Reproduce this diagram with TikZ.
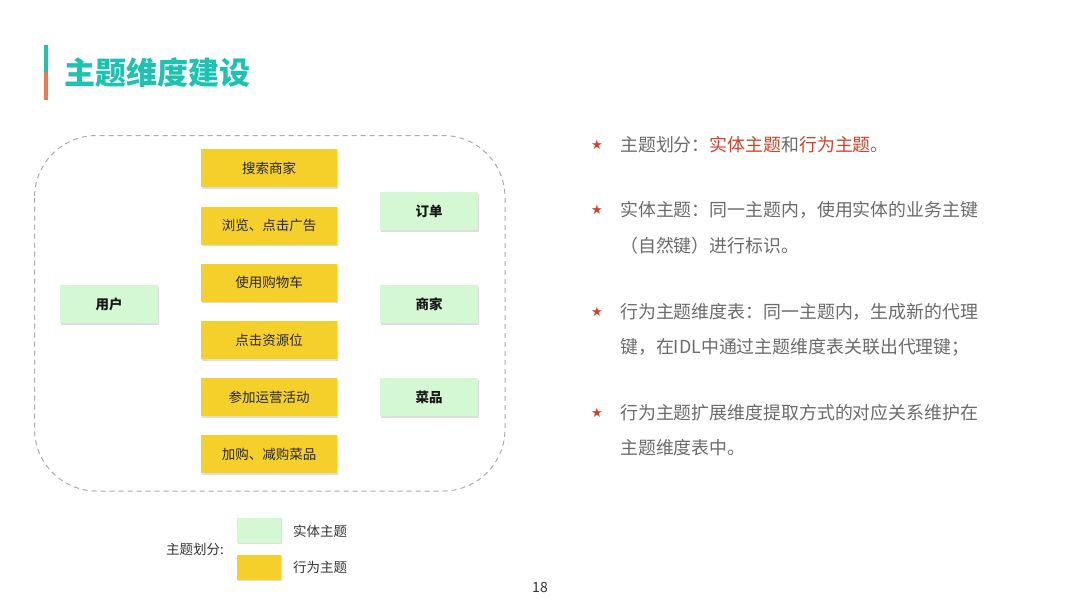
\documentclass[tikz,border=0pt]{standalone}
\usepackage{fontspec}
\setmainfont{Noto Sans CJK SC}
\newfontfamily\cjk{Noto Sans CJK SC}
\newfontfamily\symf{DejaVu Sans}
\usetikzlibrary{shadows}
\definecolor{teal1}{HTML}{1BC3B1}
\definecolor{orange1}{HTML}{F2764A}
\definecolor{ybox}{HTML}{F5D02B}
\definecolor{gbox}{HTML}{D3F8D3}
\definecolor{txtgray}{HTML}{6B6B6B}
\definecolor{redtxt}{HTML}{D63F2A}
\definecolor{dashgray}{HTML}{ABABAB}
\tikzset{
  ystyle/.style={fill=ybox, minimum width=136pt, minimum height=38pt, inner sep=0pt,
    drop shadow={shadow xshift=0.8pt, shadow yshift=-1.5pt, fill=black!22, opacity=0.6},
    font=\cjk\fontsize{13.5}{15}\selectfont, text=black!85},
  gstyle/.style={fill=gbox, minimum width=98pt, minimum height=38pt, inner sep=0pt,
    drop shadow={shadow xshift=0.8pt, shadow yshift=-1.5pt, fill=black!22, opacity=0.6},
    font=\cjk\bfseries\fontsize{13.5}{15}\selectfont, text=black!90},
  bodytxt/.style={anchor=west, inner sep=0pt, text=txtgray, font=\cjk\fontsize{17.9}{20}\selectfont},
  staricon/.style={inner sep=0pt, text=redtxt, font=\symf\fontsize{13}{14}\selectfont},
  legtxt/.style={anchor=west, inner sep=0pt, text=black!80, font=\cjk\fontsize{13.5}{15}\selectfont},
  legbox/.style={minimum width=44pt, minimum height=25pt, inner sep=0pt,
    drop shadow={shadow xshift=0.6pt, shadow yshift=-1.2pt, fill=black!22, opacity=0.6}}
}
\begin{document}
\begin{tikzpicture}[x=1pt,y=-1pt]
\useasboundingbox[fill=white] (0,0) rectangle (1080,608);
% accent bar
\fill[teal1] (44,45) rectangle (47.5,72);
\fill[orange1] (44,72) rectangle (47.5,100);
\node[anchor=west, inner sep=0pt, text=teal1, font=\cjk\bfseries\fontsize{31}{35}\selectfont] (title) at (64,73) {主题维度建设};
% dashed container
\draw[dashgray, line width=1pt, dash pattern=on 5pt off 4pt, rounded corners=62pt] (34.5,135.5) rectangle (505,491);
% yellow boxes
\node[ystyle] (y1) at (269,168) {搜索商家};
\node[ystyle] (y2) at (269,225.5) {浏览、点击广告};
\node[ystyle] (y3) at (269,282.7) {使用购物车};
\node[ystyle] (y4) at (269,340) {点击资源位};
\node[ystyle] (y5) at (269,397) {参加运营活动};
\node[ystyle] (y6) at (269,454.3) {加购、减购菜品};
% green boxes
\node[gstyle] (user) at (109,304) {用户};
\node[gstyle] (order) at (429,211) {订单};
\node[gstyle] (shop) at (429,304) {商家};
\node[gstyle] (dish) at (429,397) {菜品};
% right text
\node[staricon] (s1) at (597,145) {★};
\node[bodytxt] (t1) at (620,145) {主题划分：\textcolor{redtxt}{实体主题}和\textcolor{redtxt}{行为主题}。};
\node[staricon] (s2) at (597,210) {★};
\node[bodytxt] (t2) at (620,210) {实体主题：同一主题内，使用实体的业务主键};
\node[bodytxt] (t3) at (620,246) {（自然键）进行标识。};
\node[staricon] (s3) at (597,312) {★};
\node[bodytxt] (t4) at (620,312) {行为主题维度表：同一主题内，生成新的代理};
\node[bodytxt] (t5) at (620,347) {键，在IDL中通过主题维度表关联出代理键；};
\node[staricon] (s4) at (597,413) {★};
\node[bodytxt] (t6) at (620,413) {行为主题扩展维度提取方式的对应关系维护在};
\node[bodytxt] (t7) at (620,448) {主题维度表中。};
% legend
\node[legtxt] (legtitle) at (166,549) {主题划分:};
\node[legbox, fill=gbox] (lg) at (259,530.5) {};
\node[legbox, fill=ybox] (ly) at (259,567) {};
\node[legtxt] (lgt) at (293,531) {实体主题};
\node[legtxt] (lyt) at (293,567) {行为主题};
\node[inner sep=0pt, text=black!80, font=\cjk\fontsize{14}{16}\selectfont] (pnum) at (540,588) {18};
\end{tikzpicture}
\end{document}
